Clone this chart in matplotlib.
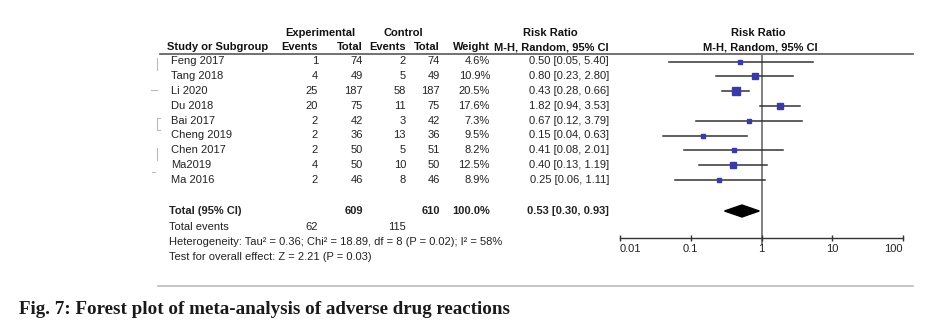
import numpy as np
import matplotlib.pyplot as plt

plt.rcParams['font.family'] = ['Liberation Sans', 'DejaVu Sans']

studies = ["Feng 2017", "Tang 2018", "Li 2020", "Du 2018", "Bai 2017",
           "Cheng 2019", "Chen 2017", "Ma2019", "Ma 2016"]
exp_events = [1, 4, 25, 20, 2, 2, 2, 4, 2]
exp_total = [74, 49, 187, 75, 42, 36, 50, 50, 46]
ctl_events = [2, 5, 58, 11, 3, 13, 5, 10, 8]
ctl_total = [74, 49, 187, 75, 42, 36, 51, 50, 46]
weights = [4.6, 10.9, 20.5, 17.6, 7.3, 9.5, 8.2, 12.5, 8.9]
rr = [0.50, 0.80, 0.43, 1.82, 0.67, 0.15, 0.41, 0.40, 0.25]
rr_lo = [0.05, 0.23, 0.28, 0.94, 0.12, 0.04, 0.08, 0.13, 0.06]
rr_hi = [5.40, 2.80, 0.66, 3.53, 3.79, 0.63, 2.01, 1.19, 1.11]

pooled_rr, pooled_lo, pooled_hi = 0.53, 0.30, 0.93
het_text = "Heterogeneity: Tau\u00b2 = 0.36; Chi\u00b2 = 18.89, df = 8 (P = 0.02); I\u00b2 = 58%"
effect_text = "Test for overall effect: Z = 2.21 (P = 0.03)"
tick_vals = [0.01, 0.1, 1, 10, 100]
tick_labels = ["0.01", "0.1", "1", "10", "100"]

W, H = 935, 328
FS = 8
TXT = '#222222'

fig = plt.figure(figsize=(W / 100, H / 100), dpi=100)

# pixel-space canvas for the table part
bg = fig.add_axes([0, 0, 1, 1])
bg.set_xlim(0, W)
bg.set_ylim(H, 0)
bg.axis('off')

row0, step = 61.5, 14.8
rows_y = [row0 + step * i for i in range(len(studies))]
y_total = 211
y_events = 227
y_het = 242
y_test = 257

# column right edges
c_ee, c_et, c_ce, c_ct, c_w, c_ci = 318, 363, 406, 440, 490, 609
c_name = 169


def txt(x, y, s, ha='right', bold=False, color=TXT, size=FS):
    bg.text(x, y, s, ha=ha, va='center', fontsize=size, color=color,
            fontweight='bold' if bold else 'normal')


# headers
txt(320, 33, "Experimental", ha='center', bold=True, color='#111')
txt(403, 33, "Control", ha='center', bold=True, color='#111')
txt(550, 33, "Risk Ratio", ha='center', bold=True, color='#111')
txt(758, 33, "Risk Ratio", ha='center', bold=True, color='#111')
txt(167, 47, "Study or Subgroup", ha='left', bold=True, color='#111')
for x, s in [(c_ee, "Events"), (c_et, "Total"), (c_ce, "Events"),
             (c_ct, "Total"), (c_w, "Weight"), (c_ci, "M-H, Random, 95% CI")]:
    txt(x, 47, s, bold=True, color='#111')
txt(760, 47, "M-H, Random, 95% CI", ha='center', bold=True, color='#111')
bg.plot([160, 913], [53.5, 53.5], color='#666666', lw=1.3)

# study rows
for i, y in enumerate(rows_y):
    txt(c_name + 2, y, studies[i], ha='left')
    txt(c_ee, y, str(exp_events[i]))
    txt(c_et, y, str(exp_total[i]))
    txt(c_ce, y, str(ctl_events[i]))
    txt(c_ct, y, str(ctl_total[i]))
    txt(c_w, y, f"{weights[i]:.1f}%")
    txt(c_ci, y, f"{rr[i]:.2f} [{rr_lo[i]:.2f}, {rr_hi[i]:.2f}]")

# totals
txt(c_name, y_total, "Total (95% CI)", ha='left', bold=True)
txt(c_et, y_total, str(sum(exp_total)), bold=True)
txt(c_ct, y_total, str(sum(ctl_total)), bold=True)
txt(c_w, y_total, f"{sum(weights):.1f}%", bold=True)
txt(c_ci, y_total, f"{pooled_rr:.2f} [{pooled_lo:.2f}, {pooled_hi:.2f}]", bold=True)
txt(c_name, y_events, "Total events", ha='left')
txt(c_ee, y_events, str(sum(exp_events)))
txt(c_ce, y_events, str(sum(ctl_events)))
txt(c_name, y_het, het_text, ha='left')
txt(c_name, y_test, effect_text, ha='left')

# faint scan marks along the left edge
mark = dict(color='#bbbbbb', lw=0.8)
bg.plot([157, 157], [58, 70], **mark)
bg.plot([151, 157], [90, 90], **mark)
bg.plot([157, 157], [118, 130], **mark)
bg.plot([157, 160], [118, 118], **mark)
bg.plot([157, 160], [130, 130], **mark)
bg.plot([157, 157], [148, 160], **mark)
bg.plot([152, 155], [172, 172], **mark)

# bottom rule and caption
bg.plot([158, 913], [286, 286], color='#bbbbbb', lw=1.2)
bg.text(19, 309, "Fig. 7: Forest plot of meta-analysis of adverse drug reactions",
        ha='left', va='center', fontsize=13.7, fontweight='bold',
        family='Liberation Serif', color='#1a1a1a')

# forest panel on a log scale
x0, x1 = 620, 903
y_top, y_bot = 50, 265
ax = fig.add_axes([x0 / W, 1 - y_bot / H, (x1 - x0) / W, (y_bot - y_top) / H])
ax.set_xscale('log')
ax.set_xlim(0.01, 100)
ax.set_ylim(y_bot, y_top)
ax.patch.set_alpha(0)
for s in ['top', 'left', 'right']:
    ax.spines[s].set_visible(False)
ax.spines['bottom'].set_position(('data', 238))
ax.spines['bottom'].set_color('#333333')
ax.spines['bottom'].set_linewidth(1.0)
ax.set_yticks([])
ax.set_xticks(tick_vals)
ax.set_xticklabels(tick_labels)
ax.minorticks_off()
ax.tick_params(axis='x', direction='inout', length=5, width=1.0,
               color='#333333', labelsize=FS, labelcolor=TXT, pad=2)
labels = ax.get_xticklabels()
labels[0].set_ha('left')
labels[-1].set_ha('right')

ax.plot([1, 1], [53.5, 244], color='#777777', lw=1.3, zorder=1)

for i, y in enumerate(rows_y):
    ax.plot([rr_lo[i], rr_hi[i]], [y, y], color='#333333', lw=1.1, zorder=2)
    ax.plot(rr[i], y, marker='s', ms=1.15 * np.sqrt(weights[i]),
            color='#3a3aa6', mec='#3a3aa6', zorder=3)

ax.fill([pooled_lo, pooled_rr, pooled_hi, pooled_rr],
        [y_total, y_total - 6, y_total, y_total + 6], color='black', zorder=3)

fig.savefig('out.png', dpi=100)
